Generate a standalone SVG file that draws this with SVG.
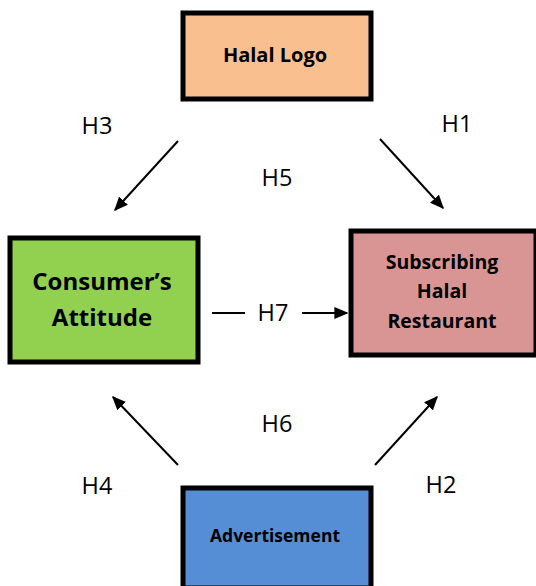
<svg xmlns="http://www.w3.org/2000/svg" width="536" height="586" viewBox="0 0 536 586">
<defs>
<marker id="ah" viewBox="0 0 10 10" refX="9" refY="5" markerWidth="7" markerHeight="6" markerUnits="strokeWidth" orient="auto" preserveAspectRatio="none">
<path d="M0,0 L10,5 L0,10 z" fill="#000"/>
</marker>
<style>
.box{stroke:#000;stroke-width:5}
.t{font-family:"Open Sans","Liberation Sans",sans-serif;font-weight:bold;fill:#000;text-anchor:middle}
.lbl{font-family:"Open Sans","Liberation Sans",sans-serif;font-size:23.5px;fill:#000;text-anchor:middle}
.c{stroke:#000;stroke-width:2;fill:none}
</style>
</defs>
<g id="halal-logo">
<rect class="box" x="183" y="13" width="188" height="86" fill="#F9BF8F"/>
<text class="t" x="275" y="62" font-size="20">Halal Logo</text>
</g>
<g id="consumers-attitude">
<rect class="box" x="10" y="238" width="188" height="124" fill="#92D050"/>
<text class="t" x="102" y="290" font-size="24">Consumer’s</text>
<text class="t" x="102" y="326" font-size="24">Attitude</text>
</g>
<g id="subscribing">
<rect class="box" x="351" y="231" width="185" height="124" fill="#D99594"/>
<text class="t" x="442" y="269" font-size="19.5">Subscribing</text>
<text class="t" x="442" y="298" font-size="19.5">Halal</text>
<text class="t" x="442" y="328" font-size="19.5">Restaurant</text>
</g>
<g id="advertisement">
<rect class="box" x="183" y="488" width="188" height="100" fill="#558ED5"/>
<text class="t" x="275" y="542" font-size="17.5">Advertisement</text>
</g>
<g id="connectors">
<line class="c" x1="178" y1="141" x2="115" y2="210" marker-end="url(#ah)"/>
<line class="c" x1="380" y1="139" x2="443" y2="208" marker-end="url(#ah)"/>
<line class="c" x1="178" y1="465" x2="113" y2="397" marker-end="url(#ah)"/>
<line class="c" x1="375" y1="465" x2="437" y2="397" marker-end="url(#ah)"/>
<line class="c" x1="212" y1="313" x2="245" y2="313"/>
<line class="c" x1="302" y1="313" x2="347" y2="313" marker-end="url(#ah)"/>
<text class="lbl" x="97" y="134">H3</text>
<text class="lbl" x="457" y="132">H1</text>
<text class="lbl" x="277" y="186">H5</text>
<text class="lbl" x="273" y="321">H7</text>
<text class="lbl" x="277" y="432">H6</text>
<text class="lbl" x="97" y="494">H4</text>
<text class="lbl" x="441" y="493">H2</text>
</g>
</svg>
